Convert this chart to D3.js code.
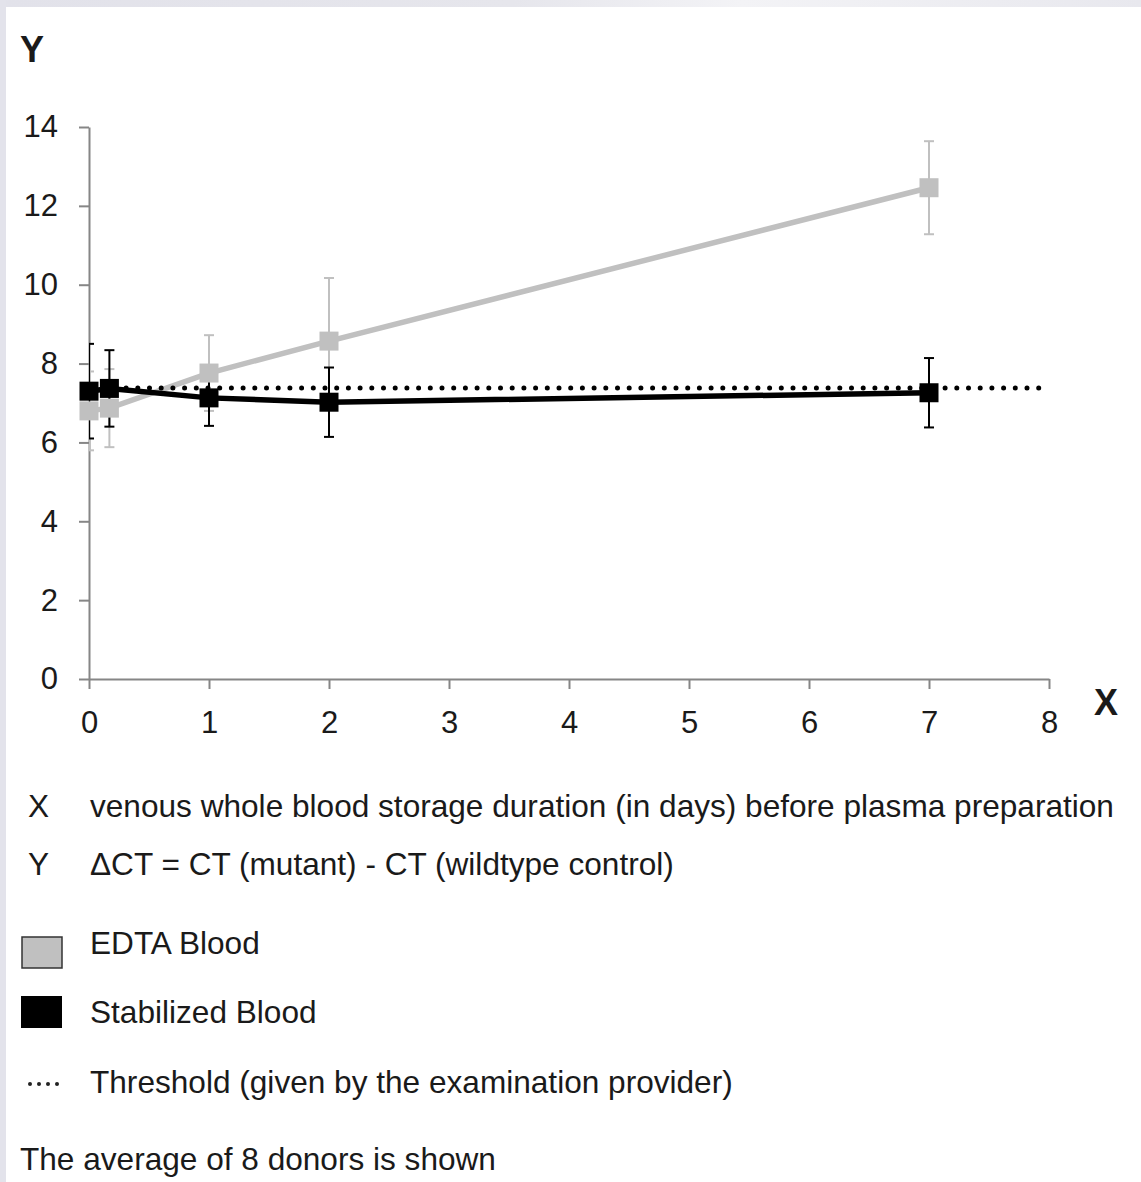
<!DOCTYPE html>
<html>
<head>
<meta charset="utf-8">
<script src="https://cdn.jsdelivr.net/npm/d3@7"></script>
<style>
  body { margin: 0; background: #fff; }
  text { font-family: "Liberation Sans", Arial, sans-serif; fill: #1a1a1a; }
</style>
</head>
<body>
<svg width="1141" height="1182"></svg>
<script>
// storage duration in days
const days = [0, 0.17, 1, 2, 7]

const edta = [6.8, 6.87, 7.76, 8.57, 12.46]
const edtaErr = [1.0, 0.99, 0.96, 1.6, 1.18]

const stab = [7.3, 7.37, 7.13, 7.02, 7.26]
const stabErr = [1.2, 0.97, 0.71, 0.88, 0.88]

const threshold = 7.38

const xTicks = [0, 1, 2, 3, 4, 5, 6, 7, 8]
const yTicks = [0, 2, 4, 6, 8, 10, 12, 14]

const legendRows = [
  ['X', 'venous whole blood storage duration (in days) before plasma preparation'],
  ['Y', 'ΔCT = CT (mutant) - CT (wildtype control)']
]
const seriesNames = ['EDTA Blood', 'Stabilized Blood', 'Threshold (given by the examination provider)']
const note = 'The average of 8 donors is shown'

const svg = d3.select('svg')
const width = +svg.attr('width')
const height = +svg.attr('height')

const gray = '#c0c0c0'
const axisColor = '#868686'

// page frame strips
const defs = svg.append('defs')
const grad = defs.append('linearGradient').attr('id', 'topStrip')
grad.append('stop').attr('offset', '0%').attr('stop-color', '#e2e2ea')
grad.append('stop').attr('offset', '45%').attr('stop-color', '#e6e6ec')
grad.append('stop').attr('offset', '65%').attr('stop-color', '#f3f3f6')
grad.append('stop').attr('offset', '100%').attr('stop-color', '#e8e8ee')

svg.append('rect').attr('width', width).attr('height', 7).attr('fill', 'url(#topStrip)')
svg.append('rect').attr('width', 6).attr('height', height).attr('fill', '#e3e3eb')

const x = d3.scaleLinear().domain([0, 8]).range([89, 1049])
const y = d3.scaleLinear().domain([0, 14]).range([679, 127])

defs.append('clipPath').attr('id', 'plotClip')
  .append('rect')
  .attr('x', x(0)).attr('y', 0)
  .attr('width', width - x(0)).attr('height', height)

// axes
const xAxis = svg.append('g')
  .attr('transform', `translate(0, ${y(0)})`)
  .call(d3.axisBottom(x).tickValues(xTicks).tickFormat(d3.format('d'))
    .tickSize(10).tickSizeOuter(0).tickPadding(22))

const yAxis = svg.append('g')
  .attr('transform', `translate(${x(0)}, 0)`)
  .call(d3.axisLeft(y).tickValues(yTicks).tickFormat(d3.format('d'))
    .tickSize(10).tickSizeOuter(0).tickPadding(21))

svg.selectAll('.domain, .tick line')
  .attr('stroke', axisColor)
  .attr('stroke-width', 2)
svg.selectAll('.tick text')
  .attr('font-size', 31)
  .attr('font-family', '"Liberation Sans", Arial, sans-serif')
  .attr('fill', '#1a1a1a')

svg.append('text')
  .attr('x', 20).attr('y', 62)
  .attr('font-size', 36).attr('font-weight', 'bold')
  .text('Y')

svg.append('text')
  .attr('x', 1094).attr('y', 715)
  .attr('font-size', 36).attr('font-weight', 'bold')
  .text('X')

const line = d3.line()
  .x(d => x(d[0]))
  .y(d => y(d[1]))

const edtaPts = days.map((d, i) => [d, edta[i], edtaErr[i]])
const stabPts = days.map((d, i) => [d, stab[i], stabErr[i]])

const drawLine = (pts, color) => svg.append('path')
  .datum(pts)
  .attr('d', line)
  .attr('fill', 'none')
  .attr('stroke', color)
  .attr('stroke-width', 5.5)

const drawErr = (pts, color) => {
  const g = svg.append('g')
    .attr('stroke', color)
    .attr('stroke-width', 2)
    .attr('clip-path', 'url(#plotClip)')
  g.selectAll('line.v').data(pts).join('line')
    .attr('x1', d => x(d[0])).attr('x2', d => x(d[0]))
    .attr('y1', d => y(d[1] + d[2])).attr('y2', d => y(d[1] - d[2]))
  g.selectAll('line.top').data(pts).join('line')
    .attr('x1', d => x(d[0]) - 5).attr('x2', d => x(d[0]) + 5)
    .attr('y1', d => y(d[1] + d[2])).attr('y2', d => y(d[1] + d[2]))
  g.selectAll('line.bot').data(pts).join('line')
    .attr('x1', d => x(d[0]) - 5).attr('x2', d => x(d[0]) + 5)
    .attr('y1', d => y(d[1] - d[2])).attr('y2', d => y(d[1] - d[2]))
}

const markerSize = 19
const drawMarkers = (pts, color) => svg.append('g')
  .selectAll('rect').data(pts).join('rect')
  .attr('x', d => x(d[0]) - markerSize / 2)
  .attr('y', d => y(d[1]) - markerSize / 2)
  .attr('width', markerSize)
  .attr('height', markerSize)
  .attr('fill', color)

drawLine(edtaPts, gray)
drawErr(edtaPts, gray)
drawLine(stabPts, '#000')
drawErr(stabPts, '#000')

// threshold dotted line
svg.append('line')
  .attr('x1', x(0) + 2).attr('x2', x(8))
  .attr('y1', y(threshold)).attr('y2', y(threshold))
  .attr('stroke', '#000')
  .attr('stroke-width', 5)
  .attr('stroke-linecap', 'round')
  .attr('stroke-dasharray', '0 11.7')

drawMarkers(edtaPts, gray)
drawMarkers(stabPts, '#000')

// legend / key
const legendFont = 31.6

legendRows.forEach((r, i) => {
  const by = [817, 875][i]
  svg.append('text').attr('x', 28).attr('y', by).attr('font-size', legendFont).text(r[0])
  svg.append('text').attr('x', 90).attr('y', by).attr('font-size', legendFont).text(r[1])
})

svg.append('rect')
  .attr('x', 22).attr('y', 937).attr('width', 40).attr('height', 31)
  .attr('fill', gray).attr('stroke', '#333').attr('stroke-width', 1.5)
svg.append('text').attr('x', 90).attr('y', 954).attr('font-size', legendFont).text(seriesNames[0])

svg.append('rect')
  .attr('x', 21).attr('y', 996).attr('width', 41).attr('height', 32)
  .attr('fill', '#000')
svg.append('text').attr('x', 90).attr('y', 1023).attr('font-size', legendFont).text(seriesNames[1])

svg.append('g').selectAll('circle').data([0, 1, 2, 3]).join('circle')
  .attr('cx', d => 30 + d * 9)
  .attr('cy', 1084)
  .attr('r', 2)
  .attr('fill', '#222')
svg.append('text').attr('x', 90).attr('y', 1093).attr('font-size', legendFont).text(seriesNames[2])

svg.append('text').attr('x', 20).attr('y', 1170).attr('font-size', legendFont).text(note)
</script>
</body>
</html>
